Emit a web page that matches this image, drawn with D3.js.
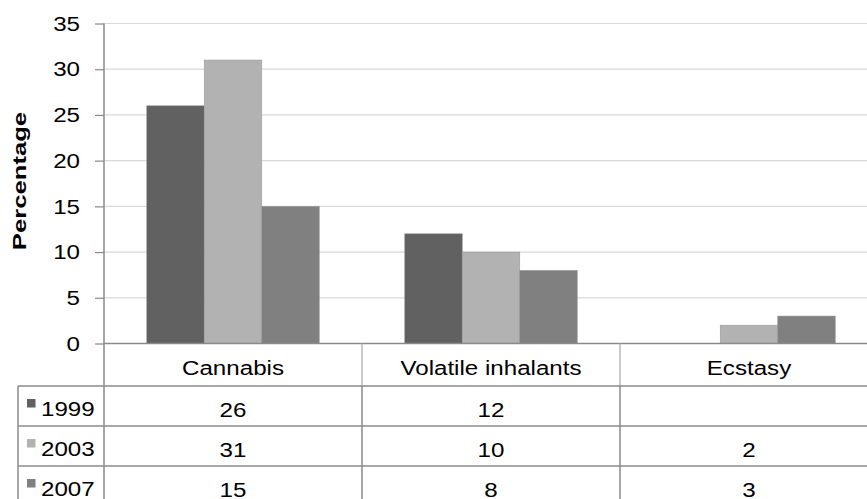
<!DOCTYPE html>
<html>
<head>
<meta charset="utf-8">
<script src="https://cdnjs.cloudflare.com/ajax/libs/d3/7.8.5/d3.min.js"></script>
<style>
html,body{margin:0;padding:0;background:#fff;overflow:hidden;}
svg{display:block;font-family:"Liberation Sans",Arial,sans-serif;}
</style>
</head>
<body>
<svg id="chart" width="867" height="499"></svg>
<script>
const categories = ["Cannabis", "Volatile inhalants", "Ecstasy"];
const years = ["1999", "2003", "2007"];
const values1999 = [26, 12, null];
const values2003 = [31, 10, 2];
const values2007 = [15, 8, 3];
const yTicks = [0, 5, 10, 15, 20, 25, 30, 35];
const colors = ["#616161", "#b2b2b2", "#808080"];

(function () {
const series = [values1999, values2003, values2007];

const svg = d3.select("#chart");
const plotLeft = 104, catW = 258, plotTop = 23.5, zeroY = 343.5;
const tableLeft = 18, headerBottom = 386, rowH = 40;
const lineColor = "#8a8a8a";
const FS = 21, SX = 1.15;

function label(g, x, y, str, anchor) {
  return g.append("text")
    .attr("transform", `translate(${x},${y}) scale(${SX},1)`)
    .attr("text-anchor", anchor || "middle")
    .attr("font-size", FS).attr("fill", "#000")
    .text(str);
}

const x0 = d3.scaleBand().domain(categories).range([plotLeft, plotLeft + catW * categories.length]);
const x1 = d3.scaleBand().domain(years).range([42.75, catW - 42.75]);
const y = d3.scaleLinear().domain([0, 35]).range([zeroY, plotTop]);

// gridlines
svg.append("g").selectAll("line").data(yTicks.filter(d => d > 0)).join("line")
  .attr("x1", plotLeft).attr("x2", 867)
  .attr("y1", d => y(d)).attr("y2", d => y(d))
  .attr("stroke", "#d9d9d9").attr("stroke-width", 1.2);

// y axis
const yAxis = d3.axisLeft(y).tickValues(yTicks).tickSize(9).tickPadding(15);
const ga = svg.append("g").attr("transform", `translate(${plotLeft},0)`).call(yAxis);
ga.select(".domain").remove();
ga.selectAll(".tick line").attr("stroke", lineColor).attr("stroke-width", 1.2);
ga.selectAll(".tick text")
  .attr("x", 0)
  .attr("transform", `translate(-24,0) scale(${SX},1)`)
  .attr("font-size", FS).attr("fill", "#000")
  .attr("font-family", "Liberation Sans, Arial, sans-serif");

// bars
years.forEach((yr, si) => {
  svg.append("g").selectAll("rect")
    .data(categories.map((c, i) => ({c, v: series[si][i]})).filter(d => d.v != null))
    .join("rect")
    .attr("x", d => x0(d.c) + x1(yr))
    .attr("width", x1.bandwidth())
    .attr("y", d => y(d.v))
    .attr("height", d => zeroY - y(d.v))
    .attr("fill", colors[si])
    .attr("stroke", "#9a9a9a").attr("stroke-width", 0.6);
});

// y axis line (extends through table)
svg.append("line").attr("x1", plotLeft).attr("x2", plotLeft).attr("y1", plotTop).attr("y2", 499)
  .attr("stroke", lineColor).attr("stroke-width", 1.5);

// zero line / header top
svg.append("line").attr("x1", plotLeft).attr("x2", 867).attr("y1", zeroY).attr("y2", zeroY)
  .attr("stroke", lineColor).attr("stroke-width", 1.5);

// category labels
const gc = svg.append("g");
categories.forEach(c => label(gc, x0(c) + catW / 2, 375, c));

// header vertical separators (lighter)
svg.append("g").selectAll("line").data(categories.slice(1)).join("line")
  .attr("x1", d => x0(d)).attr("x2", d => x0(d)).attr("y1", zeroY).attr("y2", headerBottom)
  .attr("stroke", "#a6a6a6").attr("stroke-width", 1.2);

// table horizontal lines
const rowLines = d3.range(years.length).map(i => headerBottom + i * rowH);
svg.append("g").selectAll("line").data(rowLines).join("line")
  .attr("x1", tableLeft).attr("x2", 867).attr("y1", d => d).attr("y2", d => d)
  .attr("stroke", lineColor).attr("stroke-width", 1.5);

// table verticals in data rows
svg.append("line").attr("x1", tableLeft).attr("x2", tableLeft).attr("y1", headerBottom).attr("y2", 499)
  .attr("stroke", lineColor).attr("stroke-width", 1.5);
svg.append("g").selectAll("line").data(categories.slice(1)).join("line")
  .attr("x1", d => x0(d)).attr("x2", d => x0(d)).attr("y1", headerBottom).attr("y2", 499)
  .attr("stroke", lineColor).attr("stroke-width", 1.5);

// legend keys, year labels, values
const gt = svg.append("g");
years.forEach((yr, si) => {
  const cy = headerBottom + si * rowH + rowH / 2;
  gt.append("rect").attr("x", 27).attr("y", cy - 7).attr("width", 8.5).attr("height", 8.5)
    .attr("fill", colors[si]);
  label(gt, 41, cy + 10, yr, "start");
  categories.forEach((c, i) => {
    const v = series[si][i];
    if (v != null) label(gt, x0(c) + catW / 2, cy + 11, v);
  });
});

// y title
svg.append("text").attr("transform", "translate(25.5,181) rotate(-90) scale(1.35,1)")
  .attr("text-anchor", "middle").attr("font-size", 19).attr("font-weight", "bold")
  .attr("fill", "#000").text("Percentage");
})();
</script>
</body>
</html>
